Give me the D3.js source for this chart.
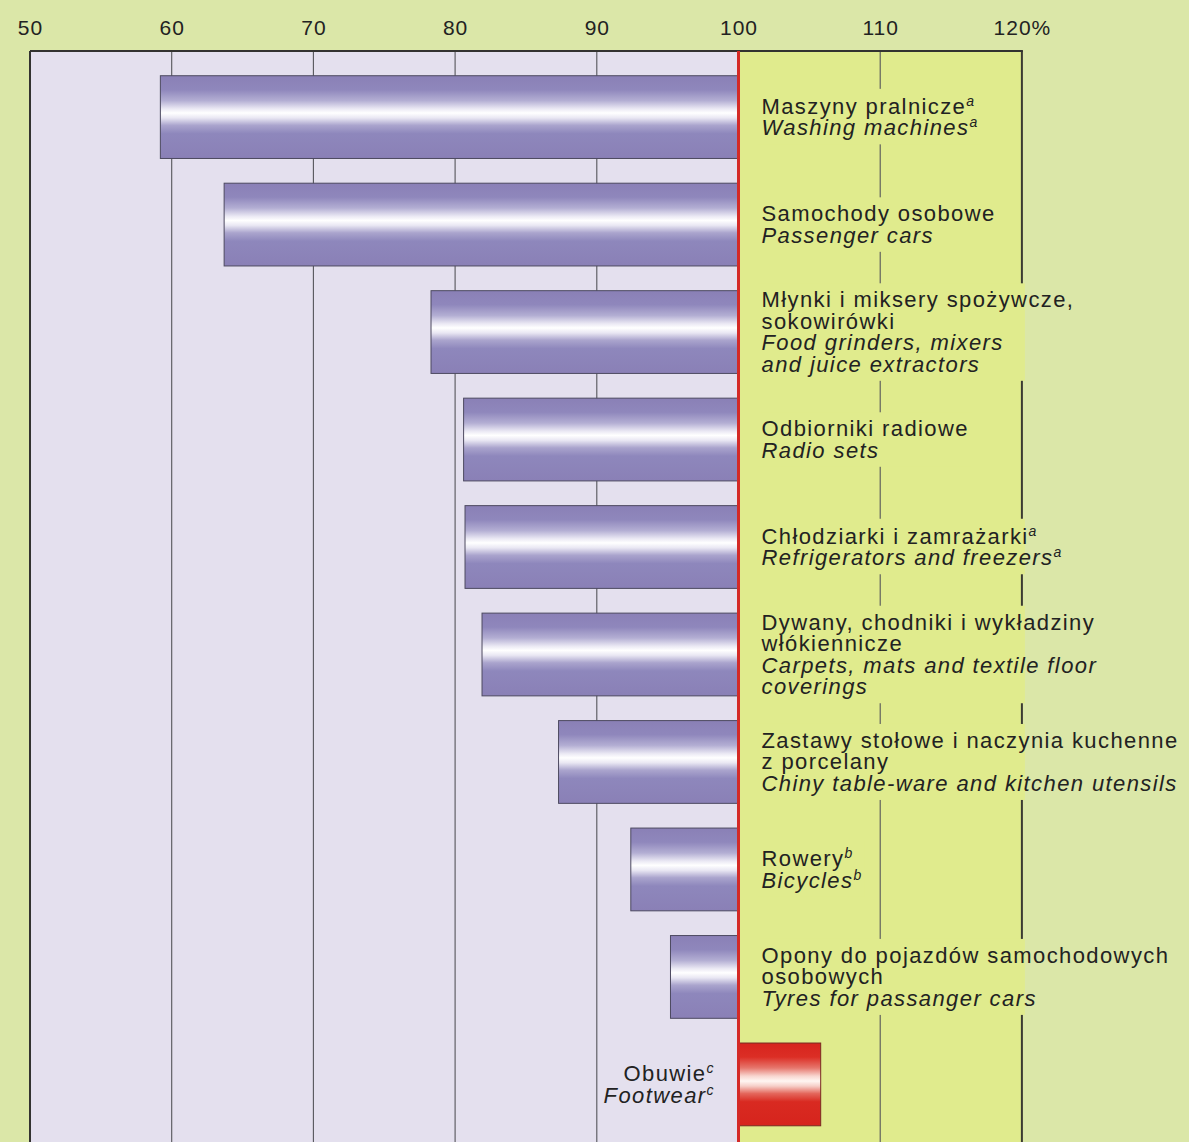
<!DOCTYPE html>
<html>
<head>
<meta charset="utf-8">
<script src="https://cdn.jsdelivr.net/npm/d3@7"></script>
<style>
  html, body { margin: 0; padding: 0; background: #dbe7a8; }
  svg { display: block; }
  text { font-family: "Liberation Sans", Arial, Helvetica, sans-serif; fill: #222; }
</style>
</head>
<body>
<svg id="chart" width="1189" height="1142"></svg>
<script>
// Production dynamics, index values (previous period = 100)
const categoriesPl = [
  "Maszyny pralnicze",
  "Samochody osobowe",
  "Młynki i miksery spożywcze,\nsokowirówki",
  "Odbiorniki radiowe",
  "Chłodziarki i zamrażarki",
  "Dywany, chodniki i wykładziny\nwłókiennicze",
  "Zastawy stołowe i naczynia kuchenne\nz porcelany",
  "Rowery",
  "Opony do pojazdów samochodowych\nosobowych",
  "Obuwie"
];
const categoriesEn = [
  "Washing machines",
  "Passenger cars",
  "Food grinders, mixers\nand juice extractors",
  "Radio sets",
  "Refrigerators and freezers",
  "Carpets, mats and textile floor\ncoverings",
  "Chiny table-ware and kitchen utensils",
  "Bicycles",
  "Tyres for passanger cars",
  "Footwear"
];
const notes = ["a", "", "", "", "a", "", "", "b", "", "c"];
const values = [59.2, 63.7, 78.3, 80.6, 80.7, 81.9, 87.3, 92.4, 95.2, 105.8];
const tickValues = [50, 60, 70, 80, 90, 100, 110, 120];
const baseValue = 100;

const svg = d3.select("#chart");
const plotTop = 51, plotBottom = 1150.5;

const x = d3.scaleLinear().domain([50, 120]).range([30, 1021.9]);
const y = d3.scaleBand().domain(d3.range(values.length)).range([plotTop, plotBottom]).padding(0.23);

// gradients for the shaded bars
const defs = svg.append("defs");
function barGradient(id, stops) {
  const g = defs.append("linearGradient").attr("id", id)
    .attr("x1", 0).attr("y1", 0).attr("x2", 0).attr("y2", 1);
  stops.forEach(([o, c]) => g.append("stop").attr("offset", o).attr("stop-color", c));
}
barGradient("gradDown", [
  [0, "#8a80b6"], [0.17, "#8f87bc"], [0.30, "#b3aed3"], [0.40, "#ebe9f4"],
  [0.45, "#ffffff"], [0.51, "#e9e7f3"], [0.60, "#aaa4cd"], [0.70, "#8e87bc"], [1, "#8a80b6"]
]);
barGradient("gradUp", [
  [0, "#d6241d"], [0.17, "#dc2e25"], [0.30, "#e6766c"], [0.40, "#f8d6d0"],
  [0.46, "#fff6f2"], [0.52, "#f6cfc8"], [0.61, "#e4675c"], [0.71, "#d92a21"], [1, "#d6241d"]
]);
defs.append("clipPath").attr("id", "rightPanelClip")
  .append("rect")
  .attr("x", x(baseValue) + 2).attr("y", plotTop)
  .attr("width", x(120) - x(baseValue) + 1).attr("height", plotBottom - plotTop);

// panels
const bg = svg.append("g");
bg.append("rect").attr("x", x(50)).attr("y", plotTop)
  .attr("width", x(baseValue) - x(50)).attr("height", plotBottom - plotTop)
  .attr("fill", "#e4e0ee");
bg.append("rect").attr("x", x(baseValue)).attr("y", plotTop)
  .attr("width", x(120) - x(baseValue)).attr("height", plotBottom - plotTop)
  .attr("fill", "#e0eb8d");

// gridlines
const grid = svg.append("g");
grid.selectAll("line.grid")
  .data(tickValues.filter(d => d !== 50 && d !== baseValue))
  .join("line")
  .attr("class", "grid")
  .attr("x1", d => x(d)).attr("x2", d => x(d))
  .attr("y1", plotTop).attr("y2", plotBottom)
  .attr("stroke", d => d === 120 ? "#3a3a33" : "#55555a")
  .attr("stroke-width", d => d === 120 ? 2 : 1.1);

// label backdrops that interrupt the gridlines
const knock = svg.append("g").attr("clip-path", "url(#rightPanelClip)");

// frame
const frame = svg.append("g");
frame.append("line").attr("x1", x(50)).attr("x2", x(120) + 1)
  .attr("y1", plotTop).attr("y2", plotTop)
  .attr("stroke", "#333330").attr("stroke-width", 2);
frame.append("line").attr("x1", x(50)).attr("x2", x(50))
  .attr("y1", plotTop).attr("y2", plotBottom)
  .attr("stroke", "#333330").attr("stroke-width", 2);

// bars
svg.append("g").selectAll("rect")
  .data(values)
  .join("rect")
  .attr("x", d => x(Math.min(d, baseValue)))
  .attr("y", (d, i) => y(i))
  .attr("width", d => Math.abs(x(d) - x(baseValue)))
  .attr("height", y.bandwidth())
  .attr("fill", d => d < baseValue ? "url(#gradDown)" : "url(#gradUp)")
  .attr("stroke", d => d < baseValue ? "#4d4a60" : "#7a2a22")
  .attr("stroke-width", 1);

// reference line at 100
svg.append("line")
  .attr("x1", x(baseValue)).attr("x2", x(baseValue))
  .attr("y1", plotTop).attr("y2", plotBottom)
  .attr("stroke", "#d42a26").attr("stroke-width", 3);

// category labels: one text block per category, Polish lines then English (italic)
const lineH = 21.5;
const supShift = 8;
const labels = svg.append("g");
values.forEach((v, i) => {
  const pl = categoriesPl[i].split("\n");
  const en = categoriesEn[i].split("\n");
  const lines = pl.map(t => ({ t, it: false })).concat(en.map(t => ({ t, it: true })));
  lines[pl.length - 1].note = notes[i];
  lines[lines.length - 1].note = notes[i];
  const below = v < baseValue;
  const lx = below ? x(baseValue) + 23 : x(baseValue) - 25;
  const cy = y(i) + y.bandwidth() / 2;
  const y0 = cy - (lines.length - 1) * lineH / 2 + 7.5;
  const t = labels.append("text")
    .attr("x", lx).attr("y", y0)
    .attr("text-anchor", below ? "start" : "end")
    .attr("font-size", 22)
    .attr("letter-spacing", "1.4px");
  let shifted = 0;
  lines.forEach((ln, k) => {
    t.append("tspan")
      .attr("x", lx)
      .attr("dy", k === 0 ? 0 : lineH + shifted)
      .attr("font-style", ln.it ? "italic" : "normal")
      .text(ln.t);
    shifted = 0;
    if (ln.note) {
      t.append("tspan").attr("dy", -supShift).attr("font-size", 14)
        .attr("font-style", "italic").attr("letter-spacing", "0px").text(ln.note);
      shifted = supShift;
    }
  });
  const bb = t.node().getBBox();
  knock.append("rect")
    .attr("x", bb.x - 3).attr("y", bb.y - 4)
    .attr("width", bb.width + 6).attr("height", bb.height + 8)
    .attr("fill", "#e0eb8d");
});

// top axis
const axis = d3.axisTop(x)
  .tickValues(tickValues)
  .tickSize(0)
  .tickPadding(16)
  .tickFormat(d => d === 120 ? d + "%" : d);
const ax = svg.append("g").attr("transform", `translate(0,${plotTop})`).call(axis);
ax.select(".domain").remove();
ax.selectAll("text")
  .attr("font-size", 21)
  .attr("letter-spacing", "1px")
  .attr("font-family", "'Liberation Sans', Arial, Helvetica, sans-serif")
  .attr("fill", "#222");
</script>
</body>
</html>
